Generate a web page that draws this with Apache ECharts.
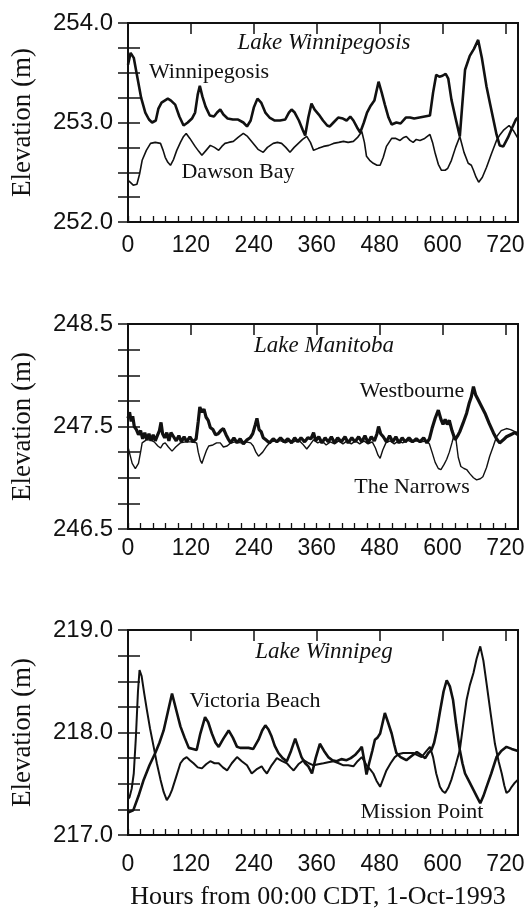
<!DOCTYPE html>
<html>
<head>
<meta charset="utf-8">
<script src="https://cdn.jsdelivr.net/npm/echarts@6/dist/echarts.min.js"></script>
<style>
  html, body { margin: 0; padding: 0; background: #fff; }
  #chart { width: 532px; height: 915px; }
</style>
</head>
<body>
<div id="chart"></div>
<script>
// x ticks (hours)
const hourLabels = [0, 120, 240, 360, 480, 600, 720];

// Lake Winnipegosis
const winnipegosisH = [0, 5, 11, 18, 25, 33, 40, 46, 53, 58,
  64, 70, 76, 82, 90, 98, 106, 114, 122, 128,
  133, 137, 142, 148, 156, 164, 170, 176, 182, 190,
  200, 210, 220, 227, 234, 240, 247, 254, 262, 270,
  280, 290, 300, 307, 312, 318, 326, 333, 338, 344,
  350, 356, 364, 372, 380, 385, 392, 401, 410, 417,
  424, 430, 437, 443, 450, 456, 462, 470, 478, 484,
  490, 497, 503, 512, 520, 530, 538, 546, 556, 566,
  576, 582, 588, 594, 600, 606, 611, 617, 625, 633,
  638, 643, 652, 660, 668, 675, 684, 691, 697, 703,
  709, 716, 725, 733, 740, 744];
const winnipegosisV = [253.58, 253.70, 253.65, 253.45, 253.25, 253.10, 253.03, 253.00, 253.02, 253.14,
  253.20, 253.22, 253.24, 253.22, 253.18, 253.06, 252.97, 253.00, 253.04, 253.10,
  253.28, 253.37, 253.26, 253.16, 253.07, 253.06, 253.10, 253.13, 253.08, 253.04,
  253.03, 253.03, 253.00, 252.96, 253.02, 253.15, 253.24, 253.20, 253.10, 253.05,
  253.02, 253.02, 253.03, 253.10, 253.13, 253.10, 253.02, 252.93, 252.87, 253.05,
  253.19, 253.13, 253.08, 253.02, 252.97, 252.96, 253.00, 253.05, 253.04, 253.02,
  253.06, 253.02, 252.95, 252.90, 253.00, 253.10, 253.16, 253.22, 253.41, 253.30,
  253.18, 253.05, 252.98, 253.00, 252.99, 253.05, 253.05, 253.04, 253.05, 253.06,
  253.07, 253.30, 253.48, 253.46, 253.47, 253.49, 253.44, 253.23, 253.04, 252.86,
  253.20, 253.53, 253.67, 253.74, 253.83, 253.65, 253.36, 253.18, 253.03, 252.88,
  252.77, 252.76, 252.85, 252.95, 253.03, 253.05];

const dawsonH = [0, 4, 10, 17, 22, 27, 35, 43, 52, 62,
  67, 71, 76, 81, 87, 93, 100, 106, 111, 118,
  128, 135, 141, 149, 157, 165, 173, 179, 185, 192,
  201, 210, 220, 228, 239, 248, 258, 266, 277, 285,
  293, 301, 309, 317, 325, 333, 341, 348, 354, 363,
  373, 383, 392, 402, 411, 420, 430, 438, 446, 451,
  455, 461, 468, 475, 481, 487, 493, 503, 511, 519,
  526, 531, 538, 544, 550, 557, 566, 576, 581, 586,
  592, 598, 605, 610, 617, 625, 633, 641, 649, 655,
  659, 664, 669, 676, 684, 693, 703, 710, 716, 727,
  735, 744];
const dawsonV = [252.42, 252.40, 252.37, 252.38, 252.48, 252.62, 252.72, 252.79, 252.80, 252.79,
  252.72, 252.65, 252.60, 252.57, 252.63, 252.72, 252.80, 252.86, 252.89, 252.84,
  252.76, 252.71, 252.67, 252.72, 252.77, 252.75, 252.72, 252.76, 252.79, 252.80,
  252.81, 252.85, 252.89, 252.86, 252.79, 252.73, 252.70, 252.75, 252.79, 252.80,
  252.79, 252.75, 252.70, 252.75, 252.79, 252.83, 252.86, 252.80, 252.72, 252.74,
  252.76, 252.77, 252.79, 252.80, 252.81, 252.80, 252.81, 252.85, 252.91, 252.80,
  252.66, 252.62, 252.59, 252.57, 252.57, 252.65, 252.76, 252.84, 252.84, 252.82,
  252.85, 252.86, 252.82, 252.80, 252.83, 252.82, 252.84, 252.88, 252.80, 252.69,
  252.58, 252.52, 252.52, 252.54, 252.62, 252.75, 252.86, 252.70, 252.59, 252.57,
  252.52, 252.45, 252.40, 252.45, 252.55, 252.68, 252.82, 252.88, 252.92, 252.97,
  252.92, 252.84];

// Lake Manitoba
const westbourneH = [0, 3, 6, 9, 12, 16, 20, 24, 28, 32,
  36, 40, 44, 48, 52, 56, 60, 63, 66, 70,
  74, 78, 82, 87, 92, 97, 102, 107, 112, 118,
  124, 130, 134, 137, 141, 145, 149, 153, 157, 162,
  167, 172, 177, 182, 187, 191, 196, 202, 208, 214,
  220, 227, 233, 238, 243, 246, 250, 254, 258, 263,
  270, 277, 284, 291, 298, 305, 312, 318, 324, 330,
  337, 343, 349, 354, 358, 364, 370, 376, 382, 388,
  394, 400, 407, 414, 420, 427, 433, 440, 446, 452,
  458, 464, 470, 475, 478, 482, 487, 493, 499, 505,
  511, 517, 523, 529, 536, 543, 550, 557, 564, 570,
  575, 580, 586, 592, 597, 601, 605, 609, 613, 618,
  624, 629, 633, 639, 646, 651, 655, 659, 663, 668,
  673, 681, 689, 697, 703, 709, 716, 722, 730, 738,
  744];
const westbourneV = [247.58, 247.64, 247.55, 247.60, 247.50, 247.47, 247.42, 247.46, 247.38, 247.44,
  247.37, 247.43, 247.36, 247.42, 247.36, 247.41, 247.46, 247.54, 247.43, 247.39,
  247.44, 247.36, 247.44, 247.40, 247.36, 247.41, 247.35, 247.40, 247.35, 247.40,
  247.35, 247.38, 247.55, 247.69, 247.64, 247.67, 247.59, 247.56, 247.49, 247.47,
  247.42, 247.43, 247.46, 247.48, 247.42, 247.38, 247.34, 247.39, 247.34, 247.38,
  247.33, 247.37, 247.39, 247.43, 247.52, 247.58, 247.47, 247.45, 247.39, 247.37,
  247.34, 247.38, 247.35, 247.39, 247.35, 247.38, 247.34, 247.39, 247.35, 247.39,
  247.35, 247.39, 247.38, 247.44, 247.36, 247.40, 247.34, 247.39, 247.35, 247.40,
  247.34, 247.39, 247.35, 247.40, 247.34, 247.39, 247.35, 247.40, 247.35, 247.41,
  247.34, 247.40, 247.36, 247.43, 247.50, 247.43, 247.40, 247.35, 247.41, 247.35,
  247.40, 247.34, 247.39, 247.35, 247.39, 247.35, 247.38, 247.35, 247.39, 247.34,
  247.38, 247.48, 247.58, 247.66, 247.57, 247.52, 247.57, 247.52, 247.56, 247.46,
  247.37, 247.41, 247.45, 247.53, 247.63, 247.73, 247.79, 247.89, 247.81, 247.76,
  247.71, 247.63, 247.53, 247.44, 247.38, 247.34, 247.37, 247.40, 247.42, 247.44,
  247.42];

const narrowsH = [0, 3, 8, 14, 20, 24, 27, 35, 43, 50,
  57, 62, 67, 71, 77, 84, 91, 100, 110, 120,
  131, 134, 138, 141, 145, 150, 154, 162, 169, 176,
  182, 189, 196, 205, 215, 225, 234, 239, 244, 249,
  252, 257, 265, 272, 282, 292, 300, 308, 316, 325,
  333, 341, 347, 354, 362, 370, 378, 386, 394, 402,
  410, 418, 426, 434, 442, 450, 458, 466, 472, 477,
  481, 486, 492, 500, 508, 516, 524, 532, 540, 550,
  560, 570, 575, 580, 586, 592, 597, 603, 608, 613,
  618, 622, 626, 630, 635, 641, 646, 652, 659, 665,
  672, 677, 684, 690, 697, 703, 712, 722, 730, 738,
  744];
const narrowsV = [247.30, 247.24, 247.14, 247.09, 247.14, 247.25, 247.34, 247.37, 247.37, 247.35,
  247.31, 247.29, 247.33, 247.34, 247.30, 247.26, 247.30, 247.34, 247.35, 247.35,
  247.34, 247.25, 247.17, 247.14, 247.20, 247.27, 247.31, 247.32, 247.34, 247.34,
  247.30, 247.31, 247.34, 247.35, 247.34, 247.35, 247.34, 247.31, 247.25, 247.21,
  247.21, 247.25, 247.31, 247.35, 247.36, 247.36, 247.34, 247.36, 247.35, 247.37,
  247.33, 247.28, 247.32, 247.37, 247.34, 247.36, 247.32, 247.35, 247.33, 247.36,
  247.33, 247.36, 247.33, 247.36, 247.33, 247.36, 247.33, 247.35, 247.29, 247.22,
  247.19, 247.27, 247.34, 247.36, 247.33, 247.36, 247.34, 247.37, 247.35, 247.36,
  247.35, 247.36, 247.33, 247.25, 247.15, 247.09, 247.08, 247.13, 247.18, 247.25,
  247.34, 247.42, 247.36, 247.20, 247.11, 247.09, 247.08, 247.04, 247.00, 246.98,
  246.99, 247.01, 247.10, 247.21, 247.31, 247.40, 247.46, 247.48, 247.47, 247.45,
  247.44];

// Lake Winnipeg
const victoriaH = [0, 10, 20, 30, 41, 52, 60, 68, 76, 84,
  92, 100, 108, 116, 124, 131, 138, 147, 153, 160,
  167, 173, 182, 192, 200, 208, 214, 222, 230, 239,
  249, 256, 262, 268, 274, 280, 287, 295, 303, 311,
  319, 325, 331, 338, 344, 351, 358, 366, 374, 382,
  390, 398, 407, 417, 425, 433, 440, 446, 451, 455,
  460, 466, 471, 476, 481, 486, 490, 496, 503, 508,
  512, 520, 531, 541, 551, 559, 567, 573, 579, 584,
  589, 595, 602, 608, 614, 620, 626, 633, 638, 643,
  651, 659, 666, 672, 678, 684, 693, 703, 712, 722,
  732, 738, 744];
const victoriaV = [217.22, 217.24, 217.38, 217.54, 217.68, 217.80, 217.90, 218.02, 218.20, 218.38,
  218.22, 218.06, 217.95, 217.85, 217.84, 217.83, 217.99, 218.15, 218.10, 217.99,
  217.90, 217.86, 217.94, 218.02, 217.95, 217.86, 217.85, 217.85, 217.85, 217.84,
  217.93, 218.02, 218.07, 218.03, 217.96, 217.87, 217.80, 217.75, 217.72, 217.82,
  217.94, 217.85, 217.76, 217.70, 217.67, 217.60, 217.75, 217.89, 217.82, 217.76,
  217.73, 217.72, 217.74, 217.73, 217.75, 217.78, 217.82, 217.86, 217.72, 217.59,
  217.70, 217.82, 217.93, 217.95, 217.99, 218.10, 218.19, 218.10, 217.99, 217.88,
  217.80, 217.76, 217.73, 217.77, 217.81, 217.78, 217.75, 217.80, 217.83, 217.90,
  218.02, 218.20, 218.40, 218.51, 218.45, 218.32, 218.08, 217.83, 217.70, 217.60,
  217.52, 217.44, 217.37, 217.31, 217.38, 217.47, 217.60, 217.76, 217.82, 217.86,
  217.84, 217.83, 217.82];

const missionH = [0, 3, 7, 11, 15, 19, 22, 26, 31, 36,
  42, 49, 55, 62, 68, 74, 79, 84, 92, 100,
  106, 112, 118, 125, 133, 141, 149, 157, 165, 173,
  181, 189, 198, 208, 217, 227, 236, 245, 255, 260,
  265, 274, 284, 294, 303, 310, 316, 325, 335, 345,
  354, 363, 373, 382, 392, 402, 411, 420, 430, 438,
  446, 451, 455, 462, 468, 474, 481, 487, 493, 501,
  509, 517, 525, 535, 544, 552, 560, 568, 576, 582,
  588, 595, 600, 605, 611, 617, 625, 633, 640, 646,
  652, 659, 665, 672, 678, 684, 692, 700, 707, 713,
  718, 722, 727, 732, 738, 744];
const missionV = [217.35, 217.37, 217.45, 217.60, 217.95, 218.40, 218.61, 218.55, 218.38, 218.22,
  218.04, 217.86, 217.70, 217.54, 217.42, 217.34, 217.38, 217.44, 217.57, 217.70,
  217.74, 217.76, 217.73, 217.70, 217.66, 217.65, 217.69, 217.72, 217.70, 217.70,
  217.66, 217.63, 217.70, 217.76, 217.72, 217.68, 217.60, 217.64, 217.67, 217.63,
  217.60, 217.68, 217.75, 217.72, 217.70, 217.66, 217.63, 217.69, 217.73, 217.70,
  217.68, 217.69, 217.70, 217.71, 217.72, 217.70, 217.68, 217.68, 217.67, 217.72,
  217.76, 217.72, 217.68, 217.64, 217.60, 217.53, 217.47, 217.55, 217.63, 217.70,
  217.76, 217.79, 217.80, 217.80, 217.80, 217.78, 217.76, 217.81, 217.86, 217.76,
  217.60, 217.47, 217.43, 217.41, 217.46, 217.54, 217.68, 217.83, 218.10, 218.32,
  218.46, 218.58, 218.72, 218.84, 218.70, 218.48, 218.18, 217.89, 217.72, 217.60,
  217.48, 217.41, 217.43, 217.47, 217.51, 217.54];

// panels: y ranges
const yMins = [252, 246.5, 217];
const yMaxs = [254, 248.5, 219];
const lakeNames = ['Lake Winnipegosis', 'Lake Manitoba', 'Lake Winnipeg'];

function pairs(h, v) {
    return h.map((x, i) => [x, v[i]]);
}

let chart = echarts.init(document.getElementById('chart'));

let ink = '#111';
let sans = 'Liberation Sans';
let serif = 'Liberation Serif';

let tops = [23, 324, 630];
let heights = [199, 205, 205];
let labelMargins = [12, 8, 18];

let grids = [], xAxes = [], yAxes = [];
for (let i = 0; i < 3; i++) {
    grids.push({
        left: 128, width: 390, top: tops[i], height: heights[i],
        show: true, borderColor: ink, borderWidth: 2, backgroundColor: 'transparent'
    });
    // day ticks + labels
    xAxes.push({
        type: 'value', gridIndex: i, min: 0, max: 744, interval: 24,
        axisLine: {show: false},
        splitLine: {show: false},
        axisTick: {inside: true, length: 6, lineStyle: {color: ink, width: 1.3}},
        axisLabel: {
            margin: labelMargins[i], color: ink, fontFamily: sans, fontSize: 23,
            showMaxLabel: false,
            formatter: v => hourLabels.indexOf(v) >= 0 ? String(v) : ''
        }
    });
    // 120 h ticks
    xAxes.push({
        type: 'value', gridIndex: i, min: 0, max: 744, interval: 120,
        axisLine: {show: false},
        splitLine: {show: false},
        axisTick: {inside: true, length: 11, lineStyle: {color: ink, width: 1.5}},
        axisLabel: {show: false}
    });
    let mn = yMins[i];
    yAxes.push({
        type: 'value', gridIndex: i, min: yMins[i], max: yMaxs[i], interval: 0.25,
        position: 'left',
        axisLine: {show: false},
        splitLine: {show: false},
        axisTick: {inside: true, length: 12, lineStyle: {color: ink, width: 1.5}},
        axisLabel: {
            margin: 15, color: ink, fontFamily: sans, fontSize: 24,
            formatter: v => {
                let k = v - mn;
                return Math.abs(k - Math.round(k)) < 1e-6 ? v.toFixed(1) : '';
            }
        }
    });
    yAxes.push({
        type: 'value', gridIndex: i, min: yMins[i], max: yMaxs[i], interval: 0.25,
        position: 'right',
        axisLine: {show: false},
        splitLine: {show: false},
        axisTick: {inside: true, length: 10, lineStyle: {color: ink, width: 1.5}},
        axisLabel: {show: false}
    });
}

function line(name, data, panel, width) {
    return {
        name: name, type: 'line', xAxisIndex: panel * 2, yAxisIndex: panel * 2,
        data: data, showSymbol: false, symbol: 'none', smooth: false,
        lineStyle: {color: ink, width: width}, silent: true, animation: false
    };
}

function txt(text, x, y, size, family, style, rot) {
    return {
        type: 'text', x: x, y: y, rotation: rot || 0,
        style: {
            text: text, fill: ink,
            font: (style || 'normal') + ' ' + size + 'px "' + family + '"',
            textAlign: 'center', textVerticalAlign: 'middle'
        }
    };
}

let graphics = [];
let titleY = [43, 346, 652];
for (let i = 0; i < 3; i++) {
    graphics.push(txt(lakeNames[i], 324, titleY[i], 23, serif, 'italic'));
    graphics.push(txt('Elevation (m)', 23, tops[i] + heights[i] / 2, 27, serif, 'normal', Math.PI / 2));
}
graphics.push(txt('Winnipegosis', 209, 72, 22, serif));
graphics.push(txt('Dawson Bay', 238, 172, 22, serif));
graphics.push(txt('Westbourne', 412, 391, 22, serif));
graphics.push(txt('The Narrows', 412, 487, 22, serif));
graphics.push(txt('Victoria Beach', 255, 701, 22, serif));
graphics.push(txt('Mission Point', 422, 812, 22, serif));
graphics.push(txt('Hours from 00:00 CDT, 1-Oct-1993', 318, 897, 26, serif));

let option = {
    backgroundColor: '#fff',
    animation: false,
    grid: grids,
    xAxis: xAxes,
    yAxis: yAxes,
    graphic: graphics,
    series: [
        line('Winnipegosis', pairs(winnipegosisH, winnipegosisV), 0, 2.6),
        line('Dawson Bay', pairs(dawsonH, dawsonV), 0, 1.6),
        line('Westbourne', pairs(westbourneH, westbourneV), 1, 3.2),
        line('The Narrows', pairs(narrowsH, narrowsV), 1, 1.4),
        line('Victoria Beach', pairs(victoriaH, victoriaV), 2, 2.6),
        line('Mission Point', pairs(missionH, missionV), 2, 2.0)
    ]
};

chart.setOption(option);
</script>
</body>
</html>
